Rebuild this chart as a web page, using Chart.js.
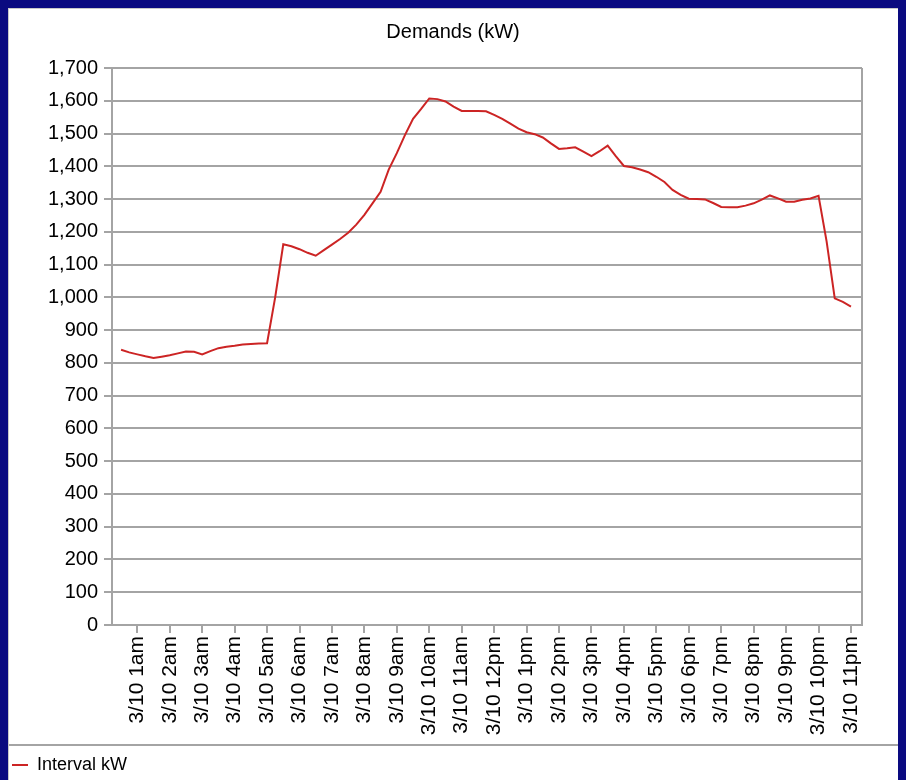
<!DOCTYPE html>
<html>
<head>
<meta charset="utf-8">
<title>Demands (kW)</title>
<script src="https://cdn.jsdelivr.net/npm/chart.js@4.4.1/dist/chart.umd.min.js"></script>
<style>
  body { margin: 0; background: #0a0a80; width: 906px; height: 780px; overflow: hidden; }
  #panel { position: absolute; left: 8px; top: 8px; width: 890px; height: 776px; background: #fff; }
  #panel::before { content: ""; position: absolute; left: 0; top: 0; right: 0; bottom: 0; border-left: 1px solid #c8c8c8; border-top: 1px solid #c8c8c8; pointer-events: none; }
</style>
</head>
<body>
<div id="panel"><canvas id="demandChart" width="890" height="776"></canvas></div>
<script>
// 15 minute interval readings, hour of day on 3/10
const hours = [
  0.5, 0.75, 1, 1.25, 1.5, 1.75, 2, 2.25, 2.5, 2.75, 3, 3.25, 3.5, 3.75, 4, 4.25, 4.5, 4.75, 5,
  5.25, 5.5, 5.75, 6, 6.25, 6.5, 6.75, 7, 7.25, 7.5, 7.75, 8, 8.25, 8.5, 8.75, 9, 9.25, 9.5, 9.75, 10,
  10.25, 10.5, 10.75, 11, 11.25, 11.5, 11.75, 12, 12.25, 12.5, 12.75, 13, 13.25, 13.5, 13.75, 14, 14.25, 14.5, 14.75, 15,
  15.25, 15.5, 15.75, 16, 16.25, 16.5, 16.75, 17, 17.25, 17.5, 17.75, 18, 18.25, 18.5, 18.75, 19, 19.25, 19.5, 19.75, 20,
  20.25, 20.5, 20.75, 21, 21.25, 21.5, 21.75, 22, 22.25, 22.5, 22.75, 23
];
const intervalKw = [
  840, 832, 826, 820, 815, 819, 823, 829, 835, 834, 826, 836, 845, 849, 852, 856, 858, 859, 860,
  1000, 1162, 1156, 1147, 1136, 1127, 1144, 1161, 1178, 1197, 1222, 1252, 1287, 1322, 1390, 1440, 1495, 1545, 1575, 1607,
  1605, 1598, 1582, 1569, 1569, 1569, 1568, 1557, 1545, 1530, 1515, 1504, 1498, 1488, 1470, 1453, 1455, 1458, 1445, 1431,
  1446, 1463, 1431, 1401, 1397, 1390, 1382, 1368, 1352, 1328, 1313, 1301, 1300, 1299, 1288, 1276, 1275, 1275, 1280, 1287,
  1298, 1311, 1302, 1292, 1292, 1298, 1302, 1310, 1170, 997, 986, 972
];
const tickHours = [1, 2, 3, 4, 5, 6, 7, 8, 9, 10, 11, 12, 13, 14, 15, 16, 17, 18, 19, 20, 21, 22, 23];
const tickLabels = [
  "3/10 1am", "3/10 2am", "3/10 3am", "3/10 4am", "3/10 5am", "3/10 6am", "3/10 7am", "3/10 8am",
  "3/10 9am", "3/10 10am", "3/10 11am", "3/10 12pm", "3/10 1pm", "3/10 2pm", "3/10 3pm", "3/10 4pm",
  "3/10 5pm", "3/10 6pm", "3/10 7pm", "3/10 8pm", "3/10 9pm", "3/10 10pm", "3/10 11pm"
];

const gridGray = "#a4a4a4";
const lineRed = "#cc2424";
const font = "'Liberation Sans', Arial, sans-serif";

// right side of the plot box and the rule above the legend
const frame = {
  id: "frame",
  afterDraw(chart) {
    const {ctx, chartArea: a, legend} = chart;
    ctx.save();
    ctx.strokeStyle = gridGray;
    ctx.lineWidth = 2;
    ctx.beginPath();
    ctx.moveTo(a.right, a.top);
    ctx.lineTo(a.right, a.bottom);
    ctx.moveTo(0, legend.top - 7);
    ctx.lineTo(chart.width, legend.top - 7);
    ctx.stroke();
    ctx.restore();
  }
};

const ctx = document.getElementById("demandChart").getContext("2d");
const chart = new Chart(ctx, {
  type: "line",
  data: {
    datasets: [{
      label: "Interval kW",
      data: hours.map((h, i) => ({x: h, y: intervalKw[i]})),
      borderColor: lineRed,
      backgroundColor: lineRed,
      borderWidth: 2,
      pointRadius: 0,
      pointStyle: "line",
      tension: 0,
      fill: false
    }]
  },
  options: {
    responsive: false,
    animation: false,
    layout: { padding: 0 },
    plugins: {
      title: {
        display: true,
        text: "Demands (kW)",
        color: "#000",
        font: { family: font, size: 20, weight: "normal" },
        padding: { top: 12, bottom: 24 }
      },
      legend: {
        position: "bottom",
        align: "start",
        labels: {
          color: "#000",
          font: { family: font, size: 18 },
          usePointStyle: true,
          pointStyleWidth: 16,
          padding: 4
        }
      },
      tooltip: { enabled: false }
    },
    scales: {
      x: {
        type: "linear",
        min: 0.22,
        max: 23.34,
        afterBuildTicks: (axis) => { axis.ticks = tickHours.map(v => ({value: v})); },
        afterFit: (axis) => { axis.height = 127; },
        grid: { display: true, drawOnChartArea: false, drawTicks: true, tickLength: 8, color: gridGray, lineWidth: 2 },
        border: { display: true, color: gridGray, width: 2 },
        ticks: {
          autoSkip: false,
          maxRotation: 90,
          minRotation: 90,
          padding: 3,
          color: "#000",
          font: { family: font, size: 21 },
          callback: (v, i) => tickLabels[i]
        }
      },
      y: {
        min: 0,
        max: 1700,
        afterFit: (axis) => { axis.width = 104; },
        grid: { color: gridGray, lineWidth: 2, tickLength: 8 },
        border: { display: true, color: gridGray, width: 2 },
        ticks: {
          stepSize: 100,
          padding: 6,
          color: "#000",
          font: { family: font, size: 20 }
        }
      },
      // empty strip that keeps the plot off the right edge
      yRight: {
        position: "right",
        afterFit: (axis) => { axis.width = 36; },
        grid: { display: false },
        border: { display: false },
        ticks: { display: false }
      }
    }
  },
  plugins: [frame]
});
</script>
</body>
</html>
